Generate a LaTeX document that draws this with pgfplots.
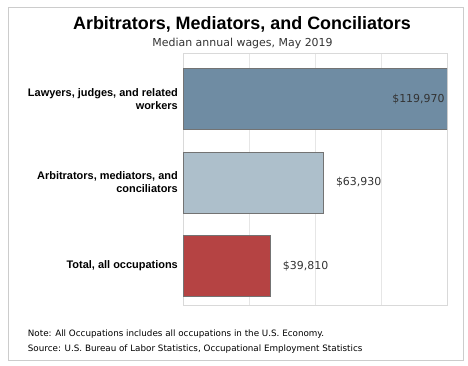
\documentclass[border=0pt]{standalone}
\usepackage{pgfplots}
\pgfplotsset{compat=1.18}
\usepackage{fontspec}
\setmainfont{Liberation Sans}
\newfontfamily\dv{DejaVu Sans}
\definecolor{barA}{HTML}{6F8CA3}
\definecolor{barB}{HTML}{ADBFCB}
\definecolor{barC}{HTML}{B54343}
\definecolor{frame}{HTML}{CCCCCC}
\definecolor{gridc}{HTML}{E6E6E6}
\definecolor{valc}{HTML}{333333}
\begin{document}
\begin{tikzpicture}[x=1bp,y=1bp]
\path[use as bounding box] (0,0) rectangle (468,365);
\draw[frame, line width=1.2bp] (8.5,357.5) rectangle (463.5,4.5);
\node[anchor=base, inner sep=0] at (242,336) {\bfseries\fontsize{18}{20}\selectfont Arbitrators, Mediators, and Conciliators};
\node[anchor=base, inner sep=0, text=black!80] at (242.5,318.5) {\dv\fontsize{11}{13}\selectfont Median annual wages, May 2019};
\node[anchor=base west, inner sep=0] at (27.7,29) {\dv\fontsize{8.8}{11}\selectfont Note: All Occupations includes all occupations in the U.S. Economy.};
\node[anchor=base west, inner sep=0] at (27.7,13.3) {\dv\fontsize{8.8}{11}\selectfont Source: U.S. Bureau of Labor Statistics, Occupational Employment Statistics};
\begin{axis}[
  at={(183bp,60bp)}, anchor=south west,
  scale only axis, width=264bp, height=252bp,
  xmin=0, xmax=120000, ymin=-0.467, ymax=2.551,
  xbar, bar width=61bp, bar shift=0pt,
  scaled x ticks=false,
  xtick={0,30000,60000,90000,120000}, xticklabels={},
  xmajorgrids, major grid style={gridc, line width=0.8bp},
  major tick length=0pt,
  axis line style={black!15, line width=0.8bp},
  ytick={0,1,2},
  yticklabels={{Total, all occupations},{Arbitrators, mediators, and\\conciliators},{Lawyers, judges, and related\\workers}},
  yticklabel style={font=\bfseries\fontsize{11}{13}\selectfont, align=right, inner sep=0pt, xshift=-5bp},
  point meta=explicit symbolic,
  nodes near coords,
]
\addplot[fill=barA, draw=black!55, line width=0.7bp,
  every node near coord/.style={font=\dv\fontsize{11}{13}\selectfont, text=valc, inner sep=0pt, anchor=east, xshift=-2bp}]
  coordinates {(119970,2) [\$119,970]};
\addplot[fill=barB, draw=black!55, line width=0.7bp,
  every node near coord/.style={font=\dv\fontsize{11}{13}\selectfont, text=valc, inner sep=0pt, anchor=west, xshift=12bp}]
  coordinates {(63930,1) [\$63,930]};
\addplot[fill=barC, draw=black!55, line width=0.7bp,
  every node near coord/.style={font=\dv\fontsize{11}{13}\selectfont, text=valc, inner sep=0pt, anchor=west, xshift=12bp}]
  coordinates {(39810,0) [\$39,810]};
\end{axis}
\end{tikzpicture}
\end{document}
